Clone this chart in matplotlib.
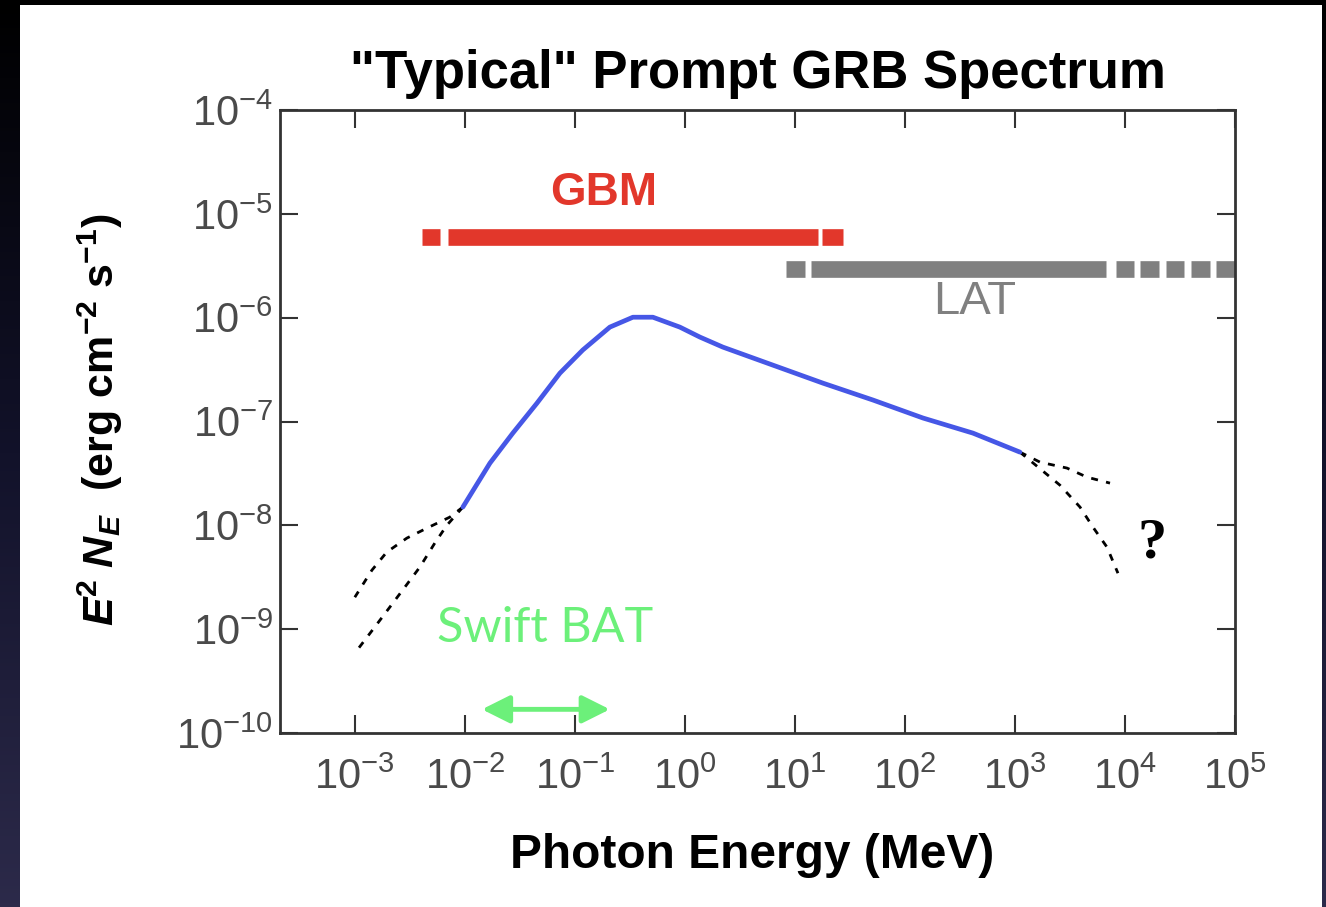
import matplotlib
matplotlib.use("Agg")
from matplotlib import pyplot as plt
from matplotlib.patches import Rectangle
from matplotlib.colors import LinearSegmentedColormap
import numpy as np

plt.rcParams['font.family'] = ['Liberation Sans', 'DejaVu Sans']
plt.rcParams['mathtext.fontset'] = 'custom'
plt.rcParams['mathtext.rm'] = 'Liberation Sans'
plt.rcParams['mathtext.it'] = 'Liberation Sans:italic'
plt.rcParams['mathtext.bf'] = 'Liberation Sans:bold'
plt.rcParams['mathtext.bfit'] = 'Liberation Sans:bold:italic'

# blue "typical" spectrum (MeV, erg cm^-2 s^-1)
band_e = [0.0096, 0.0169, 0.0273, 0.0452, 0.0731, 0.118, 0.208, 0.337, 0.512,
          0.90, 1.37, 2.21, 6.31, 18.0, 51.2, 146, 415, 1110]
band_f = [1.50e-8, 3.97e-8, 7.73e-8, 1.50e-7, 2.92e-7, 4.88e-7, 8.11e-7, 1.01e-6, 1.01e-6,
          8.11e-7, 6.50e-7, 5.21e-7, 3.49e-7, 2.34e-7, 1.61e-7, 1.08e-7, 7.73e-8, 5.07e-8]

# dashed low-energy extrapolations
low_up_e = [0.0096, 0.00731, 0.00452, 0.00297, 0.00195, 0.00143, 0.001]
low_up_f = [1.50e-8, 1.20e-8, 9.40e-9, 7.53e-9, 5.52e-9, 3.70e-9, 2.03e-9]
low_dn_e = [0.0096, 0.00686, 0.00533, 0.00390, 0.00285, 0.00208, 0.00152, 0.001]
low_dn_f = [1.50e-8, 1.00e-8, 6.74e-9, 3.96e-9, 2.54e-9, 1.63e-9, 1.05e-9, 5.87e-10]

# dashed high-energy extrapolations
high_up_e = [1110, 1690, 2970, 4520, 7310]
high_up_f = [5.07e-8, 4.06e-8, 3.56e-8, 2.91e-8, 2.55e-8]
high_dn_e = [1110, 2560, 3900, 5120, 6860, 8630]
high_dn_f = [5.07e-8, 2.44e-8, 1.50e-8, 9.6e-9, 6.17e-9, 3.46e-9]

# instrument bands (segments in MeV) and the level they are drawn at
gbm_segments = [(0.00406, 0.00593), (0.0070, 16.2), (17.6, 27.3)]
gbm_level = 6.0e-6
lat_segments = [(8.28, 12.3), (14.0, 6720), (8280, 12080), (13700, 20400),
                (23600, 34400), (39800, 59300), (67200, 1e5)]
lat_level = 2.95e-6

swift_bat = (0.0143, 0.208)
swift_level = 1.69e-10

fig = plt.figure(figsize=(13.26, 9.07), dpi=100)

# dark slide background with white panel
bg = fig.add_axes([0, 0, 1, 1], zorder=-10)
grad = np.linspace(0, 1, 256).reshape(-1, 1)
cm = LinearSegmentedColormap.from_list('bg', ['#000000', '#12122a', '#2c2a4a'])
bg.imshow(grad, aspect='auto', cmap=cm, extent=[0, 1, 0, 1], origin='upper')
bg.add_patch(Rectangle((20 / 1326, 0), (1322 - 20) / 1326, 1 - 5 / 907,
                       facecolor='white', edgecolor='none'))
bg.set_xlim(0, 1)
bg.set_ylim(0, 1)
bg.axis('off')

ax = fig.add_axes([280 / 1326, 1 - 733 / 907, (1235 - 280) / 1326, (733 - 110) / 907])
ax.set_xscale('log')
ax.set_yscale('log')
ax.set_xlim(10 ** -3.68, 1e5)
ax.set_ylim(1e-10, 1e-4)

for lo, hi in gbm_segments:
    ax.plot([lo, hi], [gbm_level, gbm_level], color='#e2372b', lw=12, solid_capstyle='butt')
for lo, hi in lat_segments:
    ax.plot([lo, hi], [lat_level, lat_level], color='#808080', lw=12, solid_capstyle='butt')

ax.plot(low_up_e, low_up_f, color='black', lw=2, dashes=(2.5, 3))
ax.plot(low_dn_e, low_dn_f, color='black', lw=2, dashes=(2.5, 3))
ax.plot(high_up_e, high_up_f, color='black', lw=2, dashes=(2.5, 3))
ax.plot(high_dn_e, high_dn_f, color='black', lw=2, dashes=(2.5, 3))
ax.plot(band_e, band_f, color='#4657e6', lw=3.4, solid_capstyle='round',
        solid_joinstyle='round')

ax.annotate('', xy=(swift_bat[1], swift_level), xytext=(swift_bat[0], swift_level),
            arrowprops=dict(arrowstyle='<|-|>', color='#6cf07a', lw=3.5,
                            mutation_scale=42, shrinkA=0, shrinkB=0))

ax.text(0.184, 1.58e-5, 'GBM', color='#e2372b', fontsize=33, fontweight='bold',
        ha='center', va='center')
ax.text(433, 1.41e-6, 'LAT', color='#808080', fontsize=34, ha='center', va='center')
ax.text(17600, 6.74e-9, '?', fontsize=42, fontweight='bold', family='Liberation Serif',
        ha='center', va='center')
ax.text(0.0533, 1.02e-9, 'Swift BAT', color='#6cf07a', fontsize=35, family='Lato',
        ha='center', va='center')

ax.set_xticks([1e-3, 1e-2, 1e-1, 1e0, 1e1, 1e2, 1e3, 1e4, 1e5])
ax.set_yticks([1e-10, 1e-9, 1e-8, 1e-7, 1e-6, 1e-5, 1e-4])
ax.minorticks_off()
ax.tick_params(which='major', direction='in', length=13, width=1.5, color='#333333',
               top=True, right=True, labelsize=30, labelcolor='#4a4a4a')
ax.tick_params(axis='x', pad=18)
ax.tick_params(axis='y', pad=5)
for s in ax.spines.values():
    s.set_linewidth(2)
    s.set_color('#333333')

ax.set_title('"Typical" Prompt GRB Spectrum', fontsize=38, fontweight='bold', pad=16)
fig.text(752 / 1326, 1 - 855 / 907, 'Photon Energy (MeV)', fontsize=34.5, fontweight='bold',
         ha='center', va='center')
fig.text(100 / 1326, 1 - 420 / 907,
         r'$\mathbfit{E}^{\mathbf{2}}\ \mathbfit{N}_{\mathbfit{E}}$  (erg cm$^{\mathbf{-2}}$ s$^{\mathbf{-1}}$)',
         fontsize=31, fontweight='bold', rotation=90, ha='center', va='center')

plt.savefig('out.png', dpi=100)
